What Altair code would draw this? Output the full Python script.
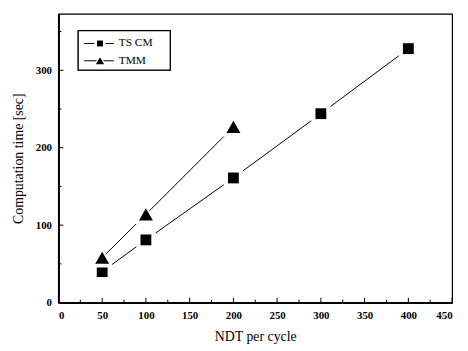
import altair as alt
import pandas as pd

# ---- data ----
series = ["TS CM", "TMM"]
ndt_tscm = [50, 100, 200, 300, 400]
time_tscm = [40, 81, 161, 244, 328]
ndt_tmm = [50, 100, 200]
time_tmm = [58, 114, 227]
x_major = [0, 50, 100, 150, 200, 250, 300, 350, 400, 450]
x_minor = [25, 75, 125, 175, 225, 275, 325, 375, 425]
y_major = [0, 100, 200, 300]
y_minor = [50, 150, 250, 350]

W, H = 398, 292
FONT = "Liberation Serif"

df = pd.DataFrame({
    "ndt": ndt_tscm + ndt_tmm,
    "time": time_tscm + time_tmm,
    "series": [series[0]] * len(ndt_tscm) + [series[1]] * len(ndt_tmm),
})

xs = alt.Scale(domain=[0, 450], nice=False, zero=False)
ys = alt.Scale(domain=[0, 373], nice=False, zero=False)
x_axis = alt.Axis(values=x_major, ticks=False, grid=False, title="NDT per cycle",
                  labelPadding=7, titlePadding=9, format="d")
y_axis = alt.Axis(values=y_major, ticks=False, grid=False, title="Computation time [sec]",
                  labelPadding=7, titlePadding=10, format="d")

style = {
    "TS CM": {"shape": "square", "size": 120, "halo": 380, "lsize": 36, "lhalo": 130},
    "TMM": {"shape": "triangle-up", "size": 200, "halo": 520, "lsize": 70, "lhalo": 200},
}

layers = []
base = alt.Chart(df)
layers.append(
    base.mark_line(color="black", strokeWidth=1).encode(
        x=alt.X("ndt:Q", scale=xs, axis=x_axis),
        y=alt.Y("time:Q", scale=ys, axis=y_axis),
        detail="series:N",
    )
)
for s in series:
    st = style[s]
    sub = base.transform_filter(alt.datum.series == s)
    layers.append(
        sub.mark_point(shape=st["shape"], filled=True, color="white", opacity=1, size=st["halo"]).encode(
            x=alt.X("ndt:Q", scale=xs, axis=x_axis), y=alt.Y("time:Q", scale=ys, axis=y_axis))
    )
    layers.append(
        sub.mark_point(shape=st["shape"], filled=True, color="black", opacity=1, size=st["size"]).encode(
            x=alt.X("ndt:Q", scale=xs, axis=x_axis), y=alt.Y("time:Q", scale=ys, axis=y_axis))
    )

# inward ticks
def xticks(vals, length):
    return alt.Chart(pd.DataFrame({"v": vals})).mark_rule(color="black", strokeWidth=1).encode(
        x=alt.X("v:Q", scale=xs, axis=x_axis), y=alt.value(H), y2=alt.value(H - length))

def yticks(vals, length):
    return alt.Chart(pd.DataFrame({"v": vals})).mark_rule(color="black", strokeWidth=1).encode(
        y=alt.Y("v:Q", scale=ys, axis=y_axis), x=alt.value(0), x2=alt.value(length))

layers += [xticks(x_major, 5), xticks(x_minor, 3), yticks(y_major, 5), yticks(y_minor, 3)]

# legend
legend_df = pd.DataFrame({"series": series})
layers.append(
    alt.Chart(legend_df).mark_rect(fill="white", stroke="black", strokeWidth=1.2).encode(
        x=alt.value(20), x2=alt.value(113), y=alt.value(17), y2=alt.value(57))
)
row_y = {"TS CM": 30, "TMM": 47.5}
for s in series:
    st = style[s]
    ld = alt.Chart(legend_df).transform_filter(alt.datum.series == s)
    layers.append(ld.mark_rule(color="black", strokeWidth=1).encode(
        x=alt.value(26), x2=alt.value(56), y=alt.value(row_y[s])))
    layers.append(ld.mark_point(shape=st["shape"], filled=True, color="white", opacity=1, size=st["lhalo"]).encode(
        x=alt.value(42), y=alt.value(row_y[s])))
    layers.append(ld.mark_point(shape=st["shape"], filled=True, color="black", opacity=1, size=st["lsize"]).encode(
        x=alt.value(42), y=alt.value(row_y[s])))
    layers.append(ld.mark_text(align="left", baseline="middle", font=FONT, fontSize=11.5, color="black").encode(
        x=alt.value(61), y=alt.value(row_y[s]), text="series:N"))

chart = alt.layer(*layers).properties(
    width=W, height=H,
    autosize=alt.AutoSizeParams(type="none"),
    padding={"left": 51, "top": 4, "right": 8, "bottom": 41},
    background="white",
).configure_view(
    stroke="black", strokeWidth=1.2
).configure_axis(
    domainColor="black", domainWidth=2, labelColor="black", titleColor="black",
    labelFont=FONT, titleFont=FONT, labelFontSize=11, labelFontWeight="bold",
    titleFontSize=14, titleFontWeight="normal",
)

chart.save("out.html", embed_options={"renderer": "svg", "actions": False})
